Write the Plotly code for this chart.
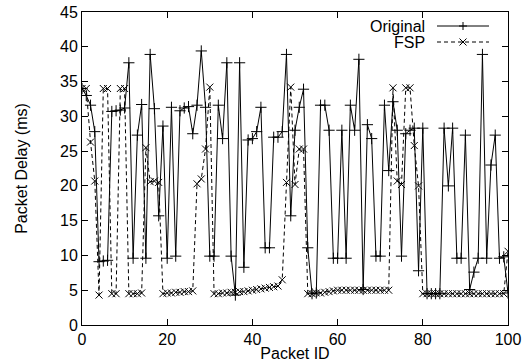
import plotly.graph_objects as go

packet_id = list(range(101))

original = [
    34.0, 33.0, 31.6, 27.8, 9.1, 9.2, 9.3, 30.7, 30.8, 30.9,
    31.2, 37.7, 9.6, 27.3, 31.7, 9.6, 38.9, 31.1, 15.7, 28.6,
    9.6, 31.3, 9.9, 30.8, 31.2, 31.4, 27.5, 31.6, 39.4, 31.3,
    9.9, 9.9, 31.6, 26.8, 37.7, 9.9, 4.3, 37.7, 8.3, 26.6,
    26.8, 27.8, 31.3, 11.1, 11.1, 27.0, 27.0, 27.8, 38.9, 15.7,
    28.0, 31.3, 33.9, 11.1, 4.5, 4.6, 31.6, 31.6, 28.0, 9.6,
    9.6, 28.0, 9.6, 31.6, 28.0, 38.2, 5.1, 28.8, 26.8, 9.9,
    9.9, 31.6, 22.2, 32.1, 28.0, 9.9, 27.5, 28.0, 28.3, 7.8,
    28.3, 4.5, 4.5, 4.5, 4.5, 28.3, 20.0, 28.3, 9.6, 9.6,
    27.3, 5.1, 7.6, 9.6, 38.9, 9.6, 23.0, 27.3, 9.6, 9.8,
    4.6,
]

fsp = [
    34.0, 34.0, 26.3, 20.7, 4.3, 34.0, 34.0, 4.5, 4.5, 34.0,
    34.0, 4.5, 4.5, 4.5, 4.6, 25.5, 20.6, 20.7, 20.5, 4.5,
    4.6, 4.6, 4.7, 4.7, 4.8, 4.8, 4.9, 20.3, 21.0, 25.3,
    34.2, 4.5, 4.5, 4.6, 4.6, 4.7, 4.7, 4.8, 4.8, 4.9,
    5.0, 5.1, 5.2, 5.3, 5.4, 5.5, 5.6, 6.5, 20.5, 34.2,
    20.2, 25.3, 25.3, 4.5, 4.5, 4.6, 4.6, 4.7, 4.8, 4.9,
    5.0, 5.0, 5.0, 5.0, 5.0, 5.0, 5.0, 5.0, 5.0, 5.0,
    5.0, 5.0, 5.0, 34.1, 20.7, 20.2, 34.1, 34.1, 25.8, 20.0,
    4.5, 4.5, 4.5, 4.5, 4.5, 4.5, 4.5, 4.5, 4.5, 4.5,
    4.5, 4.5, 4.5, 4.5, 4.5, 4.5, 4.5, 4.5, 4.5, 4.5,
    10.6,
]

x_ticks = [0, 20, 40, 60, 80, 100]
y_ticks = [0, 5, 10, 15, 20, 25, 30, 35, 40, 45]
series_names = ["Original", "FSP"]

FONT = "Liberation Sans, Arial, Helvetica, sans-serif"
INK = "#000000"

fig = go.Figure()
fig.add_trace(go.Scatter(
    x=packet_id, y=original, name=series_names[0], mode="lines+markers",
    line=dict(color=INK, width=1),
    marker=dict(symbol="cross-thin", size=8, line=dict(color=INK, width=1), color=INK),
    showlegend=False,
))
fig.add_trace(go.Scatter(
    x=packet_id, y=fsp, name=series_names[1], mode="lines+markers",
    line=dict(color=INK, width=1, dash="4px,3px"),
    marker=dict(symbol="x-thin", size=7, line=dict(color=INK, width=1), color=INK),
    showlegend=False,
))

W, H = 528, 362
# plot box in page pixels: x 82..508, y 12..325
L, R, T, B = 82, 528 - 508, 12, 362 - 325
pw, ph = W - L - R, H - T - B

def px_x(p):
    return (p - L) / pw

def px_y(p):
    return (H - B - p) / ph

# gnuplot-style key: text right-aligned, sample to the right
key_rows = [(26, "solid", "plus"), (42, "dash", "x")]
TEXT_END, LINE_X0, LINE_X1, MARK_X = 427, 437, 489, 463
shapes = []
annotations = []
for (yy, dash, mk), name in zip(key_rows, series_names):
    annotations.append(dict(
        x=px_x(TEXT_END), y=px_y(yy), xref="paper", yref="paper", text=name,
        showarrow=False, xanchor="right", yanchor="middle",
        font=dict(family=FONT, size=16, color=INK),
    ))
    shapes.append(dict(
        type="line", xref="paper", yref="paper",
        x0=px_x(LINE_X0), x1=px_x(LINE_X1), y0=px_y(yy), y1=px_y(yy),
        line=dict(color=INK, width=1, dash="solid" if dash == "solid" else "4px,3px"),
    ))
    cx, cy = MARK_X, yy
    if mk == "plus":
        segs = [(cx - 4, cy, cx + 4, cy), (cx, cy - 4, cx, cy + 4)]
    else:
        segs = [(cx - 3.5, cy - 3.5, cx + 3.5, cy + 3.5), (cx - 3.5, cy + 3.5, cx + 3.5, cy - 3.5)]
    for a, b, c, d in segs:
        shapes.append(dict(
            type="line", xref="paper", yref="paper",
            x0=px_x(a), y0=px_y(b), x1=px_x(c), y1=px_y(d),
            line=dict(color=INK, width=1),
        ))

axis_common = dict(
    showline=True, linecolor=INK, linewidth=1, mirror="allticks",
    ticks="inside", ticklen=6, tickwidth=1, tickcolor=INK,
    showgrid=False, zeroline=False, automargin=False,
    tickfont=dict(family=FONT, size=16, color=INK),
)

fig.update_layout(
    width=W, height=H,
    margin=dict(l=L, r=R, t=T, b=B),
    paper_bgcolor="white", plot_bgcolor="white",
    font=dict(family=FONT, size=16, color=INK),
    xaxis=dict(range=[0, 100], tickvals=x_ticks, ticktext=[str(v) for v in x_ticks],
               title=dict(text="Packet ID", font=dict(family=FONT, size=16, color=INK), standoff=7),
               **axis_common),
    yaxis=dict(range=[0, 45], tickvals=y_ticks, ticktext=[str(v) for v in y_ticks],
               title=dict(text="Packet Delay (ms)", font=dict(family=FONT, size=16, color=INK), standoff=28),
               **axis_common),
    shapes=shapes,
    annotations=annotations,
    showlegend=False,
)

fig.write_html(
    "out.html",
    config={"displayModeBar": False},
    post_script="document.body.style.margin='0';",
)
